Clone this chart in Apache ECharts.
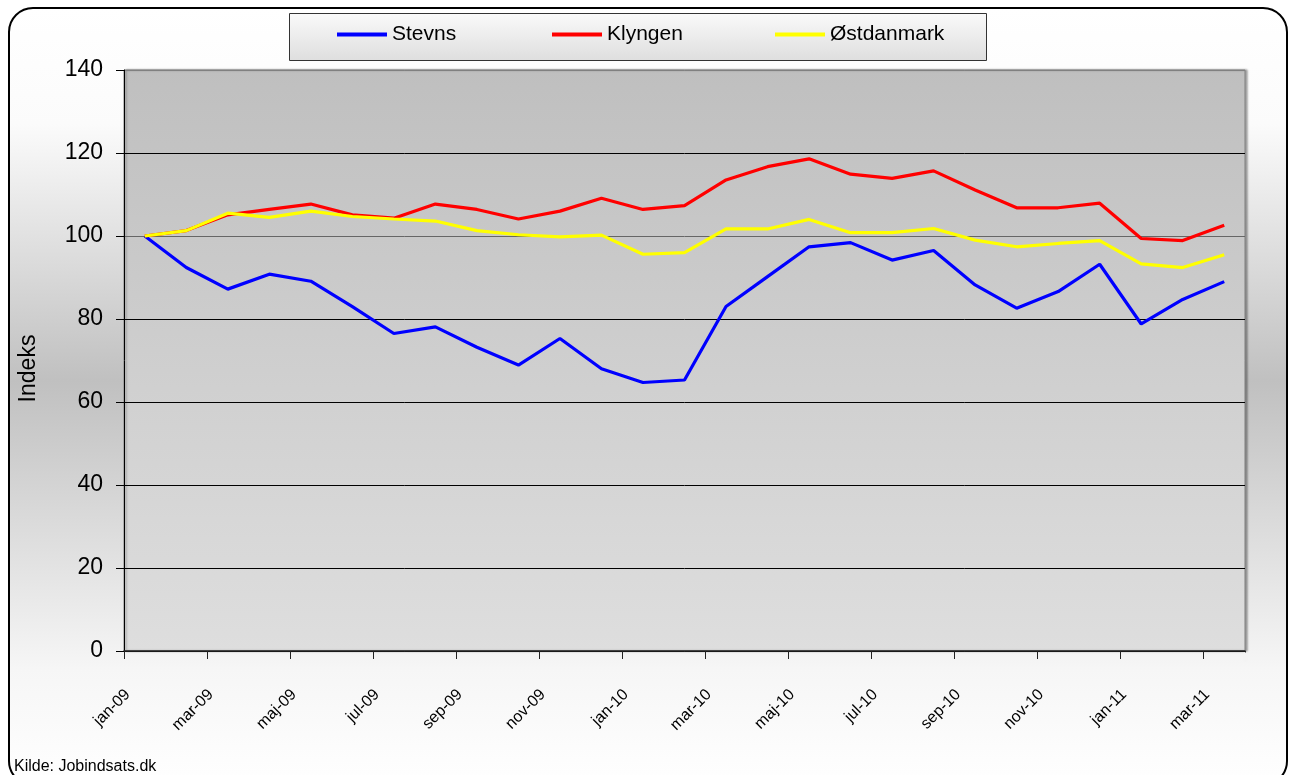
<!DOCTYPE html>
<html>
<head>
<meta charset="utf-8">
<script src="https://cdn.jsdelivr.net/npm/echarts@6/dist/echarts.min.js"></script>
<style>
html,body{margin:0;padding:0;background:#fff;}
#c{width:1289px;height:775px;}
</style>
</head>
<body>
<div id="c"></div>
<script>
const categories = ['jan-09','feb-09','mar-09','apr-09','maj-09','jun-09','jul-09','aug-09','sep-09','okt-09','nov-09','dec-09',
  'jan-10','feb-10','mar-10','apr-10','maj-10','jun-10','jul-10','aug-10','sep-10','okt-10','nov-10','dec-10',
  'jan-11','feb-11','mar-11'];
const stevns = [100, 92.4, 87.2, 90.8, 89.1, 83.0, 76.5, 78.1, 73.2, 68.9, 75.3, 68.0, 64.7, 65.3, 83.0, 90.2, 97.4, 98.4, 94.2, 96.5, 88.2, 82.6, 86.6, 93.2, 78.8, 84.7, 89.0];
const klyngen = [100, 101.3, 105.1, 106.4, 107.7, 105.1, 104.3, 107.7, 106.4, 104.1, 106.0, 109.1, 106.4, 107.3, 113.5, 116.7, 118.6, 114.9, 113.9, 115.7, 111.1, 106.8, 106.8, 107.9, 99.4, 98.9, 102.6];
const ostdanmark = [100, 101.3, 105.5, 104.5, 106.0, 104.7, 104.1, 103.6, 101.3, 100.3, 99.8, 100.2, 95.6, 96.0, 101.7, 101.7, 104.0, 100.8, 100.8, 101.8, 99.0, 97.4, 98.2, 98.9, 93.3, 92.4, 95.5];
const seriesNames = ['Stevns','Klyngen','Østdanmark'];
const seriesColors = ['#0000ff','#ff0000','#ffff00'];
const yTicks = [0,20,40,60,80,100,120,140];

const FONT = '"Liberation Sans", Arial, sans-serif';
const chart = echarts.init(document.getElementById('c'), null, {renderer:'canvas'});

const seriesData = [stevns, klyngen, ostdanmark];
const legendLeft = [337, 552, 775];

const option = {
  backgroundColor: '#ffffff',
  animation: false,
  graphic: [
    {
      type: 'rect', z: -100,
      shape: {x: 9, y: 8, width: 1278, height: 777, r: 24},
      style: {
        fill: new echarts.graphic.LinearGradient(0, 0, 0, 1, [
          {offset: 0, color: '#ffffff'},
          {offset: 0.15, color: '#fbfbfb'},
          {offset: 0.48, color: '#c0c0c0'},
          {offset: 0.85, color: '#f6f6f6'},
          {offset: 1, color: '#ffffff'}
        ]),
        stroke: '#000', lineWidth: 2
      }
    },
    {
      type: 'rect', z: 50,
      shape: {x: 289.5, y: 13.5, width: 697, height: 47},
      style: {
        fill: new echarts.graphic.LinearGradient(0, 0, 0, 1, [
          {offset: 0, color: '#fafafa'},
          {offset: 1, color: '#dedede'}
        ]),
        stroke: '#333', lineWidth: 1
      }
    },
    {
      type: 'rect', z: 60,
      shape: {x: 1243.5, y: 652.5, width: 4, height: 9},
      style: {fill: '#f3f3f3'}
    },
    {
      type: 'text', z: 60,
      style: {text: 'Kilde: Jobindsats.dk', x: 14, y: 767, font: '16px ' + FONT, fill: '#000', verticalAlign: 'middle'}
    }
  ],
  legend: seriesNames.map((n, i) => ({
    data: [n],
    left: legendLeft[i], top: 24,
    z: 70,
    padding: 0,
    icon: 'rect', itemWidth: 50, itemHeight: 4,
    selectedMode: false,
    textStyle: {fontFamily: FONT, fontSize: 21, color: '#000'}
  })),
  grid: {
    left: 124, top: 70, right: 44, bottom: 124,
    show: true,
    backgroundColor: new echarts.graphic.LinearGradient(0, 0, 0, 1, [
      {offset: 0, color: '#bfbfbf'},
      {offset: 1, color: '#dedede'}
    ]),
    borderColor: '#808080', borderWidth: 1,
    shadowColor: 'rgba(0,0,0,0.35)', shadowOffsetX: 2, shadowOffsetY: 0, shadowBlur: 2
  },
  xAxis: {
    type: 'category',
    data: categories,
    boundaryGap: true,
    axisLine: {show: true, lineStyle: {color: '#222', width: 1.5}},
    axisTick: {show: true, interval: 1, length: 8, inside: false, lineStyle: {color: '#222'}},
    axisLabel: {
      interval: 1, rotate: 45, margin: 24,
      padding: [0, 24, 0, 0],
      fontFamily: FONT, fontSize: 16, color: '#000',
      hideOverlap: false
    },
    splitLine: {show: false}
  },
  yAxis: {
    type: 'value',
    min: 0, max: 140, interval: 20,
    name: 'Indeks',
    nameLocation: 'middle',
    nameRotate: 90,
    nameGap: 84,
    nameTextStyle: {fontFamily: FONT, fontSize: 23, color: '#000', padding: [0, 16, 0, 0]},
    axisLine: {show: true, lineStyle: {color: '#000', width: 1}},
    axisTick: {show: true, length: 8, inside: false, lineStyle: {color: '#000'}},
    axisLabel: {
      margin: 21, fontFamily: FONT, fontSize: 23, color: '#000',
      formatter: v => (yTicks.indexOf(v) >= 0 ? String(v) : '')
    },
    splitLine: {show: true, lineStyle: {color: ['#000','#000','#000','#000','#000','#666','#000','#808080'], width: 1}}
  },
  series: seriesNames.map((n, i) => ({
    name: n,
    type: 'line',
    data: seriesData[i],
    symbol: 'none',
    smooth: false,
    lineStyle: {color: seriesColors[i], width: 3.2},
    itemStyle: {color: seriesColors[i]},
    z: 10 + i
  }))
};
chart.setOption(option);
</script>
</body>
</html>
